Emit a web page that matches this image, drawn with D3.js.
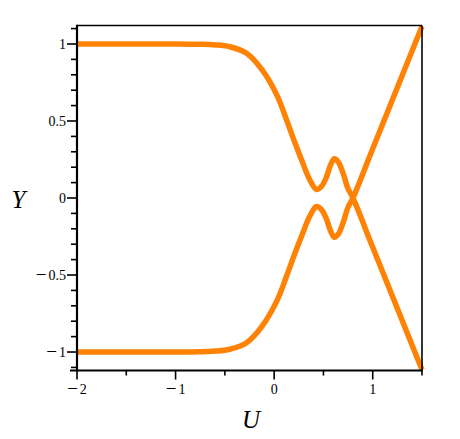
<!DOCTYPE html>
<html>
<head>
<meta charset="utf-8">
<script src="https://cdn.jsdelivr.net/npm/d3@7"></script>
<style>
  html, body { margin: 0; padding: 0; background: #ffffff; }
  svg { display: block; }
</style>
</head>
<body>
<svg id="chart" width="460" height="439"></svg>
<script>
// ---- data ----
// Branch A: starts at Y = 1 on the left, goes through the crossing and ends at the lower right corner
const uA = [-2, -1.5, -1, -0.75, -0.6, -0.45, -0.28, -0.12, 0.03, 0.13, 0.21, 0.28, 0.36, 0.43, 0.48, 0.53, 0.57, 0.61, 0.65, 0.70, 0.75, 0.80, 1.0, 1.25, 1.5];
const yA = [1, 1, 1, 0.998, 0.994, 0.982, 0.94, 0.83, 0.665, 0.50, 0.36, 0.245, 0.12, 0.055, 0.075, 0.135, 0.21, 0.255, 0.235, 0.16, 0.06, 0.0, -0.32, -0.717, -1.115];
// Branch B: starts at Y = -1 on the left, ends at the upper right corner
const uB = [-2, -1.5, -1, -0.75, -0.6, -0.45, -0.28, -0.12, 0.03, 0.13, 0.21, 0.28, 0.36, 0.43, 0.48, 0.53, 0.57, 0.61, 0.65, 0.70, 0.75, 0.80, 1.0, 1.25, 1.5];
const yB = [-1, -1, -1, -0.998, -0.994, -0.982, -0.94, -0.83, -0.665, -0.50, -0.36, -0.245, -0.12, -0.055, -0.075, -0.135, -0.21, -0.255, -0.235, -0.16, -0.06, 0.0, 0.32, 0.717, 1.115];

const xMajorTicks = [-2, -1, 0, 1];
const xTickLabels = ["\u22122", "\u22121", "0", "1"];
const xMinorTicks = [-1.5, -0.5, 0.5, 1.5];
const yMajorTicks = [-1, -0.5, 0, 0.5, 1];
const yTickLabels = ["\u22121", "\u22120.5", "0", "0.5", "1"];
const yMinorTicks = [-1.1, -0.9, -0.8, -0.7, -0.6, -0.4, -0.3, -0.2, -0.1, 0.1, 0.2, 0.3, 0.4, 0.6, 0.7, 0.8, 0.9, 1.1];

// ---- layout ----
const svg = d3.select("#chart");
const pLeft = 77, pRight = 422, pTop = 25.5, pBottom = 370.5;
const x = d3.scaleLinear().domain([-2, 1.5]).range([pLeft, pRight]);
const y = d3.scaleLinear().domain([-1.12, 1.12]).range([pBottom, pTop]);
const serif = "'Liberation Serif', 'Times New Roman', Times, serif";
const orange = "#ff8205";

// curves
const line = d3.line()
  .x(d => x(d[0]))
  .y(d => y(d[1]))
  .curve(d3.curveCatmullRom.alpha(0.5));

const branches = [d3.zip(uA, yA), d3.zip(uB, yB)];
svg.append("g").selectAll("path")
  .data(branches)
  .join("path")
  .attr("d", line)
  .attr("fill", "none")
  .attr("stroke", orange)
  .attr("stroke-width", 5.5)
  .attr("stroke-linejoin", "round")
  .attr("stroke-linecap", "butt");

// frame (top and right)
const g = svg.append("g").attr("stroke", "#000");
g.append("line").attr("x1", pLeft).attr("x2", pRight).attr("y1", pTop).attr("y2", pTop).attr("stroke-width", 1.6);
g.append("line").attr("x1", pRight).attr("x2", pRight).attr("y1", pTop).attr("y2", pBottom).attr("stroke-width", 1.6);
// axis lines (left and bottom)
g.append("line").attr("x1", pLeft).attr("x2", pLeft).attr("y1", pTop - 0.8).attr("y2", pBottom + 1).attr("stroke-width", 2.2);
g.append("line").attr("x1", pLeft - 7).attr("x2", pRight + 0.8).attr("y1", pBottom).attr("y2", pBottom).attr("stroke-width", 2.2);

// y ticks
g.selectAll(".ymaj").data(yMajorTicks).join("line")
  .attr("x1", pLeft - 10).attr("x2", pLeft).attr("y1", d => y(d)).attr("y2", d => y(d)).attr("stroke-width", 1.6);
g.selectAll(".ymin").data(yMinorTicks).join("line")
  .attr("x1", pLeft - 6).attr("x2", pLeft).attr("y1", d => y(d)).attr("y2", d => y(d)).attr("stroke-width", 1.6);
// x ticks
g.selectAll(".xmaj").data(xMajorTicks).join("line")
  .attr("x1", d => x(d)).attr("x2", d => x(d)).attr("y1", pBottom).attr("y2", pBottom + 9).attr("stroke-width", 1.6);
g.selectAll(".xmin").data(xMinorTicks).join("line")
  .attr("x1", d => x(d)).attr("x2", d => x(d)).attr("y1", pBottom).attr("y2", pBottom + 5).attr("stroke-width", 1.6);

// tick labels: the minus sign is drawn as its own, larger tspan with a small gap, like the reference
function writeLabel(sel, label) {
  const neg = label.startsWith("\u2212");
  if (neg) {
    sel.append("tspan").attr("font-size", 19).attr("dy", 1.2).text("\u2212");
    sel.append("tspan").attr("dx", 2).attr("dy", -1.2).text(label.slice(1));
  } else {
    sel.text(label);
  }
}

svg.append("g").selectAll("text").data(yMajorTicks).join("text")
  .attr("x", pLeft - 11).attr("y", d => y(d) + 4.8)
  .attr("text-anchor", "end")
  .attr("font-family", serif).attr("font-size", 14).attr("fill", "#000")
  .each(function (d, i) { writeLabel(d3.select(this), yTickLabels[i]); });

svg.append("g").selectAll("text").data(xMajorTicks).join("text")
  .attr("x", d => x(d)).attr("y", pBottom + 23.5)
  .attr("text-anchor", "middle")
  .attr("font-family", serif).attr("font-size", 14).attr("fill", "#000")
  .each(function (d, i) { writeLabel(d3.select(this), xTickLabels[i]); });

// axis titles
svg.append("text").attr("x", 18.5).attr("y", 207.5).attr("text-anchor", "middle")
  .attr("font-family", serif).attr("font-style", "italic").attr("font-size", 25).attr("fill", "#000")
  .text("Y");
svg.append("text").attr("x", 251).attr("y", 428).attr("text-anchor", "middle")
  .attr("font-family", serif).attr("font-style", "italic").attr("font-size", 25).attr("fill", "#000")
  .text("U");
</script>
</body>
</html>
